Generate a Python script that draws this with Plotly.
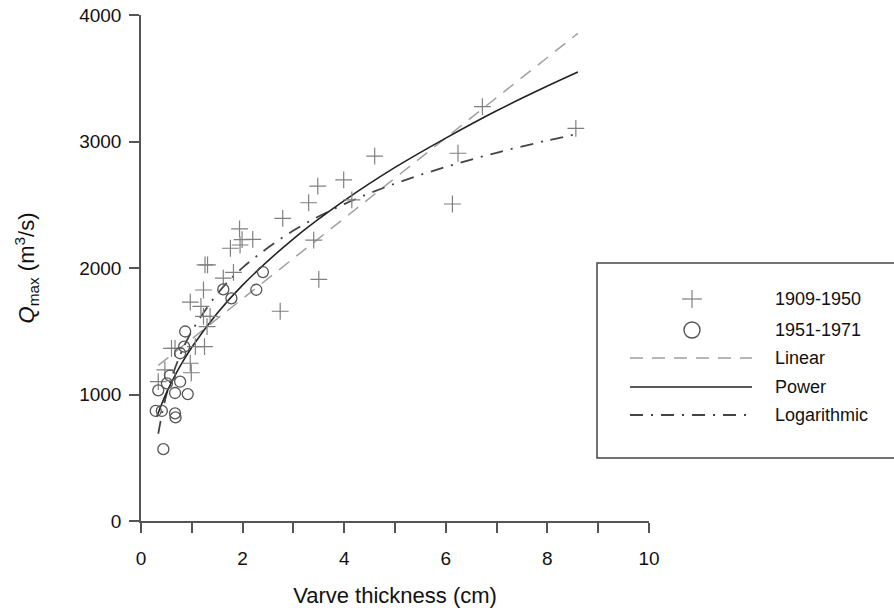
import plotly.graph_objects as go

# ---- data ----
early_x = [0.34, 0.47, 0.60, 0.67, 0.97, 0.99, 1.07, 1.25, 0.97, 1.18, 1.23, 1.36,
           1.30, 1.23, 1.26, 1.31, 1.62, 1.82, 1.76, 1.95, 1.94, 1.99, 2.20, 2.74,
           2.79, 3.30, 3.40, 3.48, 3.50, 3.99, 4.15, 4.60, 6.13, 6.24, 6.72, 8.56]
early_y = [1101, 1194, 1365, 1365, 1247, 1172, 1378, 1378, 1730, 1697, 1618, 1618,
           1537, 1826, 2024, 2024, 1920, 1966, 2156, 2182, 2310, 2224, 2227, 1658,
           2393, 2516, 2221, 2648, 1910, 2696, 2538, 2885, 2506, 2907, 3275, 3104]

late_x = [2.40, 2.27, 1.62, 1.78, 0.87, 0.85, 0.77, 0.57, 0.51, 0.77, 0.34, 0.67,
          0.92, 0.29, 0.41, 0.67, 0.68, 0.44]
late_y = [1968, 1828, 1831, 1760, 1498, 1378, 1326, 1150, 1088, 1101, 1033, 1012,
          1003, 870, 870, 851, 819, 568]

linear_x = [0.34, 8.6]
linear_y = [1230, 3855]

power_x = [0.31, 0.5, 0.75, 1.0, 1.5, 2, 3, 4, 5, 6, 7, 8, 8.6]
power_y = [824, 1013, 1210, 1374, 1643, 1865, 2231, 2532, 2795, 3027, 3243, 3438, 3549]

log_x = [0.34, 0.5, 0.75, 1.0, 1.5, 2, 3, 4, 5, 6, 7, 8, 8.6]
log_y = [690, 998, 1291, 1500, 1794, 2003, 2296, 2505, 2667, 2799, 2911, 3008, 3060]

x_ticks = [0, 2, 4, 6, 8, 10]
y_ticks = [0, 1000, 2000, 3000, 4000]

legend_names = ["1909-1950", "1951-1971", "Linear", "Power", "Logarithmic"]

FONT = "Liberation Sans, Arial, Helvetica, sans-serif"
AX = "#555555"
CROSS = "#808080"

fig = go.Figure()
fig.add_trace(go.Scatter(x=linear_x, y=linear_y, mode="lines", name="Linear",
                         line=dict(color="#a0a0a0", width=1.5, dash="13px,9px"),
                         showlegend=False))
fig.add_trace(go.Scatter(x=log_x, y=log_y, mode="lines", name="Logarithmic",
                         line=dict(color="#444444", width=1.8, dash="13px,8px,2px,8px",
                                   shape="spline"),
                         showlegend=False))
fig.add_trace(go.Scatter(x=power_x, y=power_y, mode="lines", name="Power",
                         line=dict(color="#222222", width=1.6, shape="spline"),
                         showlegend=False))
fig.add_trace(go.Scatter(x=early_x, y=early_y, mode="markers", name="1909-1950",
                         marker=dict(symbol="cross-thin-open", size=12, color=CROSS,
                                     line=dict(color=CROSS, width=1.2)),
                         showlegend=False))
fig.add_trace(go.Scatter(x=late_x, y=late_y, mode="markers", name="1951-1971",
                         marker=dict(symbol="circle-open", size=11, color="#555555",
                                     line=dict(color="#555555", width=1.3)),
                         showlegend=False))

# ---- custom legend box (paper coords; plot area 141..649 x, 15..521 y) ----
W, H, L = 508.0, 506.0, 141.0
def px(x):
    return (x - L) / W
def py(y):
    return (521.0 - y) / H

shapes = []
shapes.append(dict(type="rect", xref="paper", yref="paper",
                   x0=px(597), x1=px(905), y0=py(458), y1=py(263),
                   line=dict(color="#444444", width=1.5), fillcolor="rgba(0,0,0,0)"))
rows = [299, 330, 358, 387, 415]
sx = px(692)
shapes.append(dict(type="line", xref="paper", yref="paper", xsizemode="pixel",
                   xanchor=sx, x0=-10, x1=10, y0=py(rows[0]), y1=py(rows[0]),
                   line=dict(color=CROSS, width=1.2)))
shapes.append(dict(type="line", xref="paper", yref="paper", ysizemode="pixel",
                   yanchor=py(rows[0]), y0=-9, y1=9, x0=sx, x1=sx,
                   line=dict(color=CROSS, width=1.2)))
shapes.append(dict(type="circle", xref="paper", yref="paper", xsizemode="pixel",
                   ysizemode="pixel", xanchor=sx, yanchor=py(rows[1]),
                   x0=-8, x1=8, y0=-8, y1=8,
                   line=dict(color="#555555", width=1.4)))
styles = [("#a0a0a0", "13px,9px", 1.5), ("#222222", "solid", 1.6),
          ("#444444", "13px,8px,2px,8px", 1.8)]
for r, (c, d, w) in zip(rows[2:], styles):
    shapes.append(dict(type="line", xref="paper", yref="paper",
                       x0=px(630), x1=px(752), y0=py(r), y1=py(r),
                       line=dict(color=c, width=w, dash=d)))

annotations = []
for r, name in zip(rows, legend_names):
    annotations.append(dict(xref="paper", yref="paper", x=px(773), y=py(r),
                            xanchor="left", yanchor="middle", text=name,
                            showarrow=False, font=dict(size=18, color="#111111",
                                                       family=FONT)))

fig.update_layout(
    width=894, height=611,
    margin=dict(l=141, r=245, t=15, b=90),
    paper_bgcolor="white", plot_bgcolor="white",
    font=dict(family=FONT, color="#111111"),
    shapes=shapes, annotations=annotations,
    showlegend=False,
)
fig.update_xaxes(range=[0, 10], tickvals=x_ticks,
                 ticks="outside", ticklen=10, tickwidth=1.5, tickcolor=AX,
                 minor=dict(dtick=1, tick0=0, ticks="outside", ticklen=10,
                            tickwidth=1.5, tickcolor=AX, showgrid=False),
                 showline=True, linecolor=AX, linewidth=1.5, showgrid=False,
                 zeroline=False, tickfont=dict(size=19), ticklabelstandoff=9,
                 title=dict(text="Varve thickness (cm)", font=dict(size=22), standoff=20),
                 automargin=False)
fig.update_yaxes(range=[0, 4000], tickvals=y_ticks,
                 ticks="outside", ticklen=10, tickwidth=1.5, tickcolor=AX,
                 showline=True, linecolor=AX, linewidth=1.5, showgrid=False,
                 zeroline=False, tickfont=dict(size=19), ticklabelstandoff=4,
                 title=dict(text="<i>Q</i><sub>max</sub> (m<sup>3</sup>/s)",
                            font=dict(size=22), standoff=38),
                 automargin=False)

fig.write_html("out.html")
